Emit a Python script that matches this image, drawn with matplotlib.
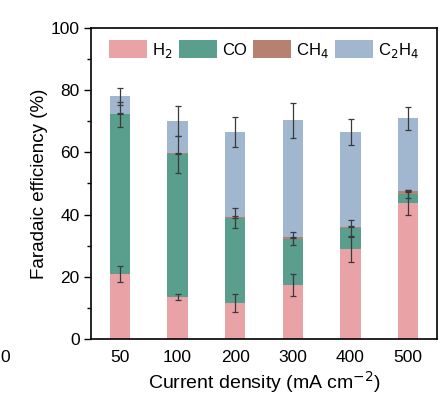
import matplotlib
matplotlib.use("Agg")
import matplotlib.pyplot as plt
import numpy as np
from matplotlib.ticker import MultipleLocator

plt.rcParams['font.family'] = ['Liberation Sans', 'DejaVu Sans']

categories = ['50', '100', '200', '300', '400', '500']
h2 = [20.9, 13.5, 11.6, 17.3, 28.9, 43.8]
co = [51.3, 45.9, 27.3, 15.0, 6.7, 2.7]
ch4 = [0.3, 0.3, 0.3, 0.4, 0.5, 1.1]
c2h4 = [5.5, 10.4, 27.3, 37.6, 30.4, 23.4]

h2_err = [2.6, 1.1, 3.0, 3.6, 4.0, 4.0]
co_err = [4.1, 6.0, 3.2, 2.1, 2.5, 1.2]
ch4_err = [0.2, 0.2, 0.2, 0.2, 0.2, 0.2]
c2h4_err = [2.7, 4.7, 4.8, 5.6, 4.2, 3.7]

labels = ['H$_2$', 'CO', 'CH$_4$', 'C$_2$H$_4$']
colors = ['#E9A3A6', '#5A9E8E', '#B68170', '#A0B7CF']

fig = plt.figure(figsize=(4.46, 3.94), dpi=100)
ax = fig.add_axes([0.204, 0.1396, 0.776, 0.7894])

x = np.arange(len(categories))
width = 0.35
series = [h2, co, ch4, c2h4]
errs = [h2_err, co_err, ch4_err, c2h4_err]
bottom = np.zeros(len(categories))
tops = []
for vals, col, lab in zip(series, colors, labels):
    v = np.array(vals)
    ax.bar(x, v, width, bottom=bottom, color=col, label=lab, linewidth=0, zorder=2)
    bottom = bottom + v
    tops.append(bottom.copy())

for top, e in zip(tops, errs):
    ax.errorbar(x, top, yerr=e, fmt='none', ecolor='#3a3a3a', elinewidth=0.9,
                capsize=2.5, capthick=0.9, zorder=3)

ax.set_xlim(-0.5, 5.5)
ax.set_ylim(0, 100)
ax.set_xticks(x)
ax.set_xticklabels(categories)
ax.yaxis.set_major_locator(MultipleLocator(20))
ax.yaxis.set_minor_locator(MultipleLocator(10))
ax.tick_params(axis='y', which='major', direction='out', length=5, width=1, labelsize=12.5, pad=3)
ax.tick_params(axis='y', which='minor', direction='out', length=3, width=1)
ax.tick_params(axis='x', which='both', length=0, labelsize=12.5, pad=8)
for s in ax.spines.values():
    s.set_linewidth(1.2)

ax.set_xlabel('Current density (mA cm$^{-2}$)', fontsize=14, labelpad=3)
ax.set_ylabel('Faradaic efficiency (%)', fontsize=13.5, labelpad=2)

ax.legend(loc='upper center', ncol=4, frameon=False, fontsize=12,
          handlelength=2.3, handleheight=1.25, handletextpad=0.3,
          columnspacing=0.35, bbox_to_anchor=(0.5, 1.0), borderaxespad=0.35)

fig.text(0.0, 1 - 357 / 394, '0', ha='left', va='center', fontsize=12.5)

fig.savefig('out.png', dpi=100)
